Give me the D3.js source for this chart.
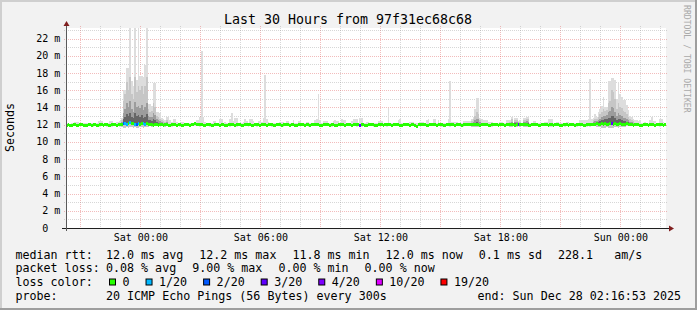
<!DOCTYPE html>
<html>
<head>
<meta charset="utf-8">
<script src="https://cdn.jsdelivr.net/npm/d3@7"></script>
<style>
  html, body { margin: 0; padding: 0; background: #f2f2f2; }
  svg { display: block; }
  text { font-family: "DejaVu Sans Mono", monospace; fill: #000; white-space: pre; }
</style>
</head>
<body>
<svg id="chart" width="697" height="310"></svg>
<script>
// ---- data (ms), one sample per 300 s, 360 samples = 30 hours ----
const titleText = 'Last 30 Hours from 97f31ec68c68';
const endTime = new Date(Date.UTC(2025, 11, 28, 2, 16, 53));
const spanHours = 30;
const stepSeconds = 300;

const medianMs = [
  11.9,12.0,11.9,11.9,12.0,12.0,11.9,11.9,12.0,12.0,11.9,11.9,11.9,12.0,12.0,11.9,12.0,12.0,11.9,11.9,
  12.0,12.0,11.9,12.0,12.0,11.9,11.9,12.0,12.0,12.0,11.9,12.0,12.0,12.0,12.1,12.1,12.0,12.1,12.2,12.1,
  12.1,12.0,12.0,12.1,12.0,12.1,12.1,12.0,12.1,12.0,12.0,12.0,11.9,12.0,12.0,11.9,12.0,12.0,11.9,12.0,
  12.0,11.9,11.9,12.0,12.0,12.0,11.9,12.0,12.0,11.9,11.9,12.0,12.0,12.0,11.9,12.0,12.0,12.1,12.0,12.0,
  12.0,12.0,11.9,11.9,12.0,12.0,12.0,11.9,11.9,12.0,12.0,12.0,11.9,12.0,12.0,11.9,11.9,12.0,12.0,12.0,
  12.0,11.9,12.0,12.0,12.0,11.9,11.9,12.0,12.0,12.0,12.0,11.9,11.9,12.0,12.0,12.0,11.9,12.0,12.0,12.0,
  11.9,12.0,12.0,12.0,11.9,11.9,12.0,12.0,12.0,11.9,12.0,12.0,12.0,12.0,11.9,12.0,12.0,11.9,11.9,12.0,
  12.0,12.0,12.0,11.9,12.0,12.0,11.9,12.0,12.0,12.0,12.0,12.0,11.9,11.9,12.0,12.0,12.0,12.0,11.9,12.0,
  12.0,11.9,11.9,12.0,12.0,12.0,12.0,11.9,12.0,12.0,12.0,11.9,12.0,12.0,12.0,12.0,11.9,12.0,12.0,11.9,
  11.9,12.0,12.0,12.0,12.0,11.9,11.9,12.0,12.0,12.0,11.9,12.0,12.0,12.0,12.0,11.9,12.0,12.0,12.0,12.0,
  11.9,11.9,12.0,12.0,12.0,12.0,11.9,12.0,12.0,11.9,11.8,12.0,12.0,12.0,12.0,12.0,11.9,11.9,12.0,12.0,
  12.0,12.0,11.9,12.0,12.0,12.0,11.9,11.9,12.0,12.0,12.0,12.0,12.0,11.9,12.0,12.0,12.0,11.9,12.0,12.0,
  12.0,12.0,12.0,12.0,12.0,12.0,12.0,12.0,11.9,12.0,12.0,12.0,12.0,11.9,11.9,12.0,12.0,12.0,12.0,11.9,
  12.0,12.0,12.0,11.9,12.0,12.0,12.0,12.0,12.0,11.9,12.0,12.0,12.0,12.0,12.0,12.0,12.0,11.9,11.9,12.0,
  12.0,12.0,12.0,11.9,11.9,12.0,12.0,12.0,12.0,11.9,12.0,12.0,11.9,12.0,12.0,12.0,11.9,11.9,12.0,12.0,
  12.0,11.9,12.0,12.0,12.0,11.9,12.0,12.0,12.0,12.0,11.9,11.9,12.0,12.0,12.0,12.0,12.0,12.0,12.1,12.0,
  12.0,12.1,12.0,12.1,12.0,12.0,12.1,12.1,12.0,12.1,12.0,12.0,12.1,12.0,12.0,12.0,12.1,12.0,12.0,12.0,
  11.9,12.0,12.0,12.0,11.9,11.9,12.0,12.0,12.0,11.9,12.0,12.0,12.0,11.9,12.0,12.0,12.0,12.0,11.9,12.0
];

// fastest ping of each sample
const minMs = [
  11.8,11.8,11.7,11.8,11.8,11.8,11.7,11.7,11.8,11.8,11.8,11.7,11.8,11.8,11.8,11.8,11.7,11.8,11.8,11.7,
  11.7,11.8,11.8,11.8,11.7,11.8,11.8,11.7,11.8,11.8,11.8,11.8,11.7,11.7,11.6,11.6,11.7,11.6,11.7,11.7,
  11.6,11.7,11.6,11.6,11.7,11.7,11.6,11.7,11.7,11.7,11.8,11.7,11.7,11.8,11.8,11.7,11.8,11.8,11.8,11.7,
  11.8,11.8,11.8,11.7,11.8,11.8,11.8,11.8,11.7,11.8,11.8,11.8,11.8,11.8,11.7,11.8,11.8,11.8,11.8,11.8,
  11.7,11.8,11.8,11.8,11.8,11.8,11.7,11.8,11.8,11.8,11.8,11.8,11.7,11.8,11.8,11.8,11.8,11.8,11.7,11.8,
  11.8,11.8,11.7,11.8,11.8,11.8,11.8,11.8,11.8,11.7,11.8,11.8,11.8,11.8,11.7,11.8,11.8,11.8,11.8,11.8,
  11.8,11.8,11.8,11.7,11.8,11.8,11.8,11.8,11.8,11.8,11.7,11.8,11.8,11.8,11.8,11.8,11.8,11.7,11.8,11.8,
  11.8,11.8,11.8,11.8,11.8,11.7,11.8,11.8,11.8,11.8,11.8,11.8,11.7,11.8,11.8,11.8,11.8,11.8,11.8,11.7,
  11.8,11.8,11.8,11.8,11.8,11.8,11.8,11.7,11.8,11.8,11.8,11.8,11.8,11.8,11.7,11.8,11.7,11.7,11.8,11.8,
  11.8,11.8,11.8,11.8,11.7,11.8,11.8,11.8,11.8,11.8,11.8,11.8,11.7,11.8,11.8,11.8,11.8,11.8,11.8,11.8,
  11.8,11.7,11.8,11.8,11.8,11.8,11.8,11.8,11.8,11.8,11.7,11.8,11.8,11.8,11.8,11.8,11.8,11.7,11.8,11.8,
  11.8,11.8,11.8,11.8,11.8,11.7,11.8,11.8,11.8,11.8,11.7,11.8,11.8,11.8,11.8,11.8,11.8,11.8,11.7,11.8,
  11.8,11.8,11.8,11.7,11.7,11.7,11.7,11.7,11.8,11.8,11.8,11.8,11.8,11.8,11.8,11.7,11.8,11.8,11.8,11.8,
  11.8,11.8,11.8,11.8,11.8,11.8,11.7,11.7,11.8,11.7,11.7,11.8,11.7,11.8,11.7,11.7,11.7,11.7,11.8,11.8,
  11.8,11.8,11.8,11.8,11.7,11.8,11.8,11.8,11.8,11.8,11.7,11.7,11.8,11.8,11.8,11.8,11.8,11.8,11.8,11.7,
  11.8,11.8,11.8,11.8,11.8,11.8,11.7,11.8,11.8,11.8,11.8,11.8,11.7,11.8,11.7,11.8,11.8,11.8,11.7,11.7,
  11.7,11.6,11.6,11.6,11.7,11.6,11.6,11.6,11.6,11.7,11.7,11.6,11.7,11.7,11.7,11.7,11.8,11.8,11.8,11.8,
  11.8,11.8,11.8,11.8,11.8,11.7,11.8,11.8,11.8,11.8,11.8,11.8,11.8,11.8,11.8,11.8,11.7,11.8,11.8,11.8
];

// slowest ping of each sample
const maxMs = [
  12.2,12.2,12.1,12.2,12.2,12.3,12.3,12.3,12.2,12.1,12.2,12.2,12.2,12.1,12.2,12.2,12.1,12.2,12.2,12.4,
  12.4,12.4,12.2,12.2,12.1,12.2,12.4,12.4,12.2,12.2,12.3,12.3,12.4,12.8,16.0,16.0,18.6,18.6,23.2,17.1,
  16.5,23.2,17.2,23.2,17.6,17.6,17.5,18.9,23.2,14.4,14.4,14.2,16.8,16.8,13.5,13.5,13.4,12.8,12.6,12.5,
  12.9,12.9,12.5,12.3,12.6,12.6,12.3,12.2,12.2,12.3,12.3,12.2,12.2,12.1,12.2,12.2,12.2,12.3,12.5,12.5,
  12.9,20.6,12.9,12.3,12.2,12.2,12.2,12.2,12.4,12.4,12.2,12.2,12.7,12.7,12.2,12.3,12.2,12.2,12.6,13.3,
  12.4,12.8,12.8,12.2,12.2,12.2,12.3,12.6,12.4,12.2,12.6,12.6,12.4,12.2,12.2,12.4,12.4,12.3,12.8,17.8,
  12.6,12.3,12.2,12.2,12.2,12.2,12.2,12.2,12.3,12.3,12.3,12.2,12.4,12.4,12.2,12.2,12.5,12.2,12.2,12.4,
  12.4,12.2,12.2,12.2,12.3,12.3,12.2,12.2,12.2,12.5,12.6,15.6,12.5,12.2,12.4,12.4,12.4,12.2,12.2,12.2,
  12.4,12.5,12.4,12.4,12.2,12.7,12.5,12.5,12.2,12.2,12.2,12.4,12.6,12.6,12.6,12.2,12.8,12.8,12.2,12.2,
  12.3,12.3,12.2,12.2,12.2,12.2,12.2,12.4,12.4,12.4,12.2,12.2,12.2,13.9,12.2,12.2,12.2,12.2,12.2,12.5,
  12.6,12.2,12.2,12.2,12.2,12.2,12.3,12.3,12.3,12.2,12.2,12.2,12.3,12.3,12.3,12.2,12.5,12.6,12.2,12.2,
  12.6,12.6,12.2,12.5,12.2,12.2,12.2,12.2,12.2,12.7,17.1,12.3,12.3,12.3,12.3,12.2,12.2,12.2,12.4,12.4,
  12.4,12.4,12.4,12.6,12.9,13.8,15.1,15.1,12.8,12.7,12.5,12.5,12.5,12.3,12.3,12.3,12.2,12.2,12.2,12.2,
  12.3,12.3,12.2,12.2,12.5,12.5,12.5,12.9,12.2,12.8,12.8,12.4,12.5,12.2,12.8,12.8,12.9,12.9,12.2,12.2,
  12.4,12.4,12.2,12.2,12.2,12.2,12.2,12.3,12.3,12.7,12.6,12.6,12.2,12.2,12.3,12.3,12.2,12.2,12.2,12.2,
  12.3,12.3,12.2,12.2,12.2,12.2,12.2,12.2,12.5,12.5,12.5,12.5,12.5,12.6,17.3,12.7,12.8,13.2,12.9,13.5,
  13.8,14.2,15.2,14.1,14.1,17.1,17.1,17.4,17.4,17.2,15.0,17.0,15.5,15.2,14.9,14.9,14.3,13.7,13.0,12.9,
  12.7,12.5,12.5,12.4,12.5,12.2,12.2,12.3,12.2,12.2,12.5,12.9,12.4,12.4,12.2,12.2,12.6,12.6,12.3,12.2
];

// denser smoke inside the busy stretches: first sample of each stretch, then quantiles
const innerStart = [33, 243, 266, 316];
const innerP90 = [
  [12.5,14.8,15.5,17.0,16.0,17.5,15.5,15.0,17.5,15.8,16.5,16.0,16.5,15.5,16.5,17.5,13.8,13.5,13.6,14.5,14.0,13.0,12.9,12.7,12.5,12.4,12.3,12.5],
  [12.4,12.6,13.0,13.5,13.2,12.5],
  [12.3,12.6,12.2,12.5,12.5,12.3,12.3,12.2,12.5,12.5,12.6,12.6],
  [12.5,12.7,12.6,12.9,13.2,13.5,13.8,13.6,13.7,14.5,14.8,16.0,15.8,15.0,13.8,14.5,14.0,13.9,13.6,13.5,13.2,12.9,12.6,12.5,12.4]
];
const innerP75 = [
  [12.3,13.4,13.8,14.5,14.0,14.8,13.8,13.5,14.6,14.0,14.2,13.9,14.3,13.7,14.0,14.5,13.0,12.9,12.9,13.3,13.1,12.6,12.5,12.4,12.3,12.2,12.2,12.3],
  [12.2,12.3,12.5,12.7,12.6,12.3],
  [12.2,12.3,12.1,12.3,12.3,12.2,12.2,12.1,12.3,12.3,12.4,12.3],
  [12.3,12.4,12.4,12.5,12.7,12.9,13.0,13.0,13.1,13.5,13.6,14.0,13.9,13.5,13.0,13.3,13.1,13.0,12.8,12.8,12.6,12.5,12.3,12.3,12.2]
];
const innerP60 = [
  [12.1,12.7,12.9,13.2,13.0,13.4,12.9,12.8,13.3,13.0,13.1,12.9,13.1,12.8,12.9,13.2,12.5,12.5,12.4,12.6,12.5,12.3,12.2,12.2,12.1,12.1,12.1,12.1],
  [12.1,12.1,12.2,12.3,12.2,12.1],
  [12.1,12.2,12.0,12.2,12.2,12.1,12.1,12.0,12.2,12.2,12.2,12.2],
  [12.2,12.2,12.2,12.3,12.4,12.5,12.5,12.6,12.6,12.8,12.8,13.0,13.0,12.8,12.5,12.7,12.6,12.5,12.4,12.4,12.3,12.3,12.2,12.2,12.1]
];

// samples with lost pings (index, lost count out of 20)
const lossIdx   = [34, 35, 36, 38, 41, 42, 43, 46, 47, 176, 271, 327];
const lossCount = [ 2,  1,  1,  1,  1,  2,  1,  1,  1,   3,   3,   3];

const lossLevels = [0, 1, 2, 3, 4, 10, 19];
const lossLabels = ['0', '1/20', '2/20', '3/20', '4/20', '10/20', '19/20'];
const lossColors = ['#26ff00', '#00b8ff', '#0059ff', '#5e00ff', '#7e00ff', '#dd00ff', '#ff0000'];

const rttStats  = ['12.0 ms avg', '12.2 ms max', '11.8 ms min', '12.0 ms now', '0.1 ms sd', '228.1   am/s'];
const lossStats = ['0.08 % avg', '9.00 % max', '0.00 % min', '0.00 % now'];
const probeText = '20 ICMP Echo Pings (56 Bytes) every 300s';
const endText   = 'end: Sun Dec 28 02:16:53 2025';
const yMaxMs = 23.22;

// ---- drawing ----
const W = 697, H = 310;
const plot = { left: 66, right: 666, top: 28, bottom: 228 };
const svg = d3.select('#chart');

const startTime = new Date(endTime.getTime() - spanHours * 3600e3);
const x = d3.scaleUtc().domain([startTime, endTime]).range([plot.left, plot.right]);
const y = d3.scaleLinear().domain([0, yMaxMs]).range([plot.bottom, plot.top]);

// background + 3d frame
svg.append('rect').attr('width', W).attr('height', H).attr('fill', '#f2f2f2');
svg.append('rect').attr('x', 0).attr('y', 0).attr('width', W).attr('height', 2).attr('fill', '#cfcfcf');
svg.append('rect').attr('x', 0).attr('y', 0).attr('width', 2).attr('height', H).attr('fill', '#cfcfcf');
svg.append('rect').attr('x', 0).attr('y', H - 2).attr('width', W).attr('height', 2).attr('fill', '#9e9e9e');
svg.append('rect').attr('x', W - 2).attr('y', 0).attr('width', 2).attr('height', H).attr('fill', '#9e9e9e');

// canvas
svg.append('rect')
  .attr('x', plot.left).attr('y', plot.top)
  .attr('width', plot.right - plot.left).attr('height', plot.bottom - plot.top)
  .attr('fill', '#fff');

// grid
const grid = svg.append('g').attr('shape-rendering', 'crispEdges');
const minorCol = 'rgba(143,143,143,0.36)';
const majorCol = 'rgba(222,79,79,0.38)';

const hours = x.ticks(d3.utcHour.every(1));
hours.forEach(t => {
  const px = Math.round(x(t)) + 0.5;
  grid.append('line')
    .attr('x1', px).attr('x2', px)
    .attr('y1', plot.top - 2).attr('y2', plot.bottom + 2)
    .attr('stroke', t.getUTCHours() % 3 === 0 ? majorCol : minorCol)
    .attr('stroke-dasharray', '1,1');
});

d3.range(1, Math.floor(yMaxMs) + 1).forEach(v => {
  const py = Math.round(y(v)) + 0.5;
  grid.append('line')
    .attr('x1', plot.left - 2).attr('x2', plot.right + 2)
    .attr('y1', py).attr('y2', py)
    .attr('stroke', v % 2 === 0 ? majorCol : minorCol)
    .attr('stroke-dasharray', '1,1');
});

// samples
const stepMs = stepSeconds * 1000;
const samples = medianMs.map((m, i) => ({
  i, median: m, min: minMs[i], max: maxMs[i], loss: 0,
  x0: Math.round(x(new Date(startTime.getTime() + i * stepMs))),
  x1: Math.round(x(new Date(startTime.getTime() + (i + 1) * stepMs)))
}));
lossIdx.forEach((k, j) => { samples[k].loss = lossCount[j]; });
innerStart.forEach((s, r) => {
  innerP90[r].forEach((v, k) => {
    const d = samples[s + k];
    d.p90 = v; d.p75 = innerP75[r][k]; d.p60 = innerP60[r][k];
  });
});

const smoke = svg.append('g').attr('shape-rendering', 'crispEdges');
function smokeLayer(list, lo, hi, color) {
  smoke.selectAll(null)
    .data(list)
    .enter().append('rect')
    .attr('x', d => d.x0)
    .attr('width', d => d.x1 - d.x0)
    .attr('y', d => y(Math.min(hi(d), yMaxMs)))
    .attr('height', d => y(lo(d)) - y(Math.min(hi(d), yMaxMs)))
    .attr('fill', color);
}
const inner = samples.filter(d => d.p90 != null);
smokeLayer(samples, d => d.min, d => d.max, '#dddddd');
smokeLayer(inner, d => d.min, d => d.p90, '#c6c6c6');
smokeLayer(inner, d => d.median, d => d.p75, '#9c9c9c');
smokeLayer(inner, d => d.median, d => d.p60, '#666666');

// median band coloured by loss
function lossColor(n) {
  let c = lossColors[0];
  lossLevels.forEach((lv, k) => { if (n >= lv) c = lossColors[k]; });
  return c;
}
svg.append('g').attr('shape-rendering', 'crispEdges')
  .selectAll('rect')
  .data(samples)
  .enter().append('rect')
  .attr('x', d => d.x0)
  .attr('width', d => d.x1 - d.x0)
  .attr('y', d => Math.round(y(d.median) - 1.5))
  .attr('height', 3)
  .attr('fill', d => lossColor(d.loss));

// axes
svg.append('line')
  .attr('x1', plot.left - 4).attr('x2', plot.right + 4)
  .attr('y1', plot.bottom + 0.5).attr('y2', plot.bottom + 0.5)
  .attr('stroke', '#1f1f1f');
svg.append('line')
  .attr('x1', plot.left + 0.5).attr('x2', plot.left + 0.5)
  .attr('y1', plot.bottom + 3).attr('y2', plot.top - 3)
  .attr('stroke', '#5a5a5a');
svg.append('path')
  .attr('d', `M${plot.left - 2.5},${plot.top - 2} L${plot.left + 3.5},${plot.top - 2} L${plot.left + 0.5},${plot.top - 7} Z`)
  .attr('fill', '#801f1f');
svg.append('path')
  .attr('d', `M${plot.right + 3},${plot.bottom - 2.5} L${plot.right + 3},${plot.bottom + 3.5} L${plot.right + 8},${plot.bottom + 0.5} Z`)
  .attr('fill', '#801f1f');

// y labels
d3.range(0, Math.floor(yMaxMs) + 1, 2).forEach(v => {
  const py = y(v) + 3.6;
  svg.append('text').attr('x', 48.3).attr('y', py)
    .attr('text-anchor', 'end').attr('font-size', 10).text(v);
  if (v !== 0) {
    svg.append('text').attr('x', 54.3).attr('y', py).attr('font-size', 10).text('m');
  }
});

// x labels
const fmt = d3.utcFormat('%a %H:%M');
x.ticks(d3.utcHour.every(6)).forEach(t => {
  svg.append('text')
    .attr('x', x(t) + 0.5).attr('y', 241)
    .attr('text-anchor', 'middle').attr('font-size', 10)
    .text(fmt(t));
});

// title, axis title, watermark
svg.append('text').attr('x', 348).attr('y', 24)
  .attr('text-anchor', 'middle').attr('font-size', 13.3).text(titleText);
svg.append('text')
  .attr('transform', 'translate(14,127.5) rotate(-90)')
  .attr('text-anchor', 'middle').attr('font-size', 11.66).text('Seconds');
svg.append('text')
  .attr('transform', 'translate(683.5,5) rotate(90)')
  .attr('font-size', 8.15).style('fill', '#a9a9a9')
  .text('RRDTOOL / TOBI OETIKER');

// legend
const lgSize = 11.66;
const colStart = 106;
const itemGap = 16;
const rowY = [258.6, 272.4, 286.2, 300];

function legendRow(yy, label, items) {
  svg.append('text').attr('x', 15.5).attr('y', yy).attr('font-size', lgSize).text(label);
  let xp = colStart;
  items.forEach(t => {
    const n = svg.append('text').attr('x', xp).attr('y', yy).attr('font-size', lgSize).text(t);
    xp += n.node().getComputedTextLength() + itemGap;
  });
}
legendRow(rowY[0], 'median rtt:', rttStats);
legendRow(rowY[1], 'packet loss:', lossStats);

svg.append('text').attr('x', 15.5).attr('y', rowY[2]).attr('font-size', lgSize).text('loss color:');
let bx = 109;
lossLabels.forEach((lab, k) => {
  svg.append('rect')
    .attr('x', bx + 0.5).attr('y', rowY[2] - 7.2)
    .attr('width', 6).attr('height', 6)
    .attr('fill', lossColors[k]).attr('stroke', '#000');
  const n = svg.append('text').attr('x', bx + 13.5).attr('y', rowY[2])
    .attr('font-size', lgSize).text(lab);
  bx += 13.5 + n.node().getComputedTextLength() + itemGap;
});

svg.append('text').attr('x', 15.5).attr('y', rowY[3]).attr('font-size', lgSize).text('probe:');
svg.append('text').attr('x', colStart).attr('y', rowY[3]).attr('font-size', lgSize).text(probeText);
svg.append('text').attr('x', 681).attr('y', rowY[3])
  .attr('text-anchor', 'end').attr('font-size', lgSize).text(endText);
</script>
</body>
</html>
